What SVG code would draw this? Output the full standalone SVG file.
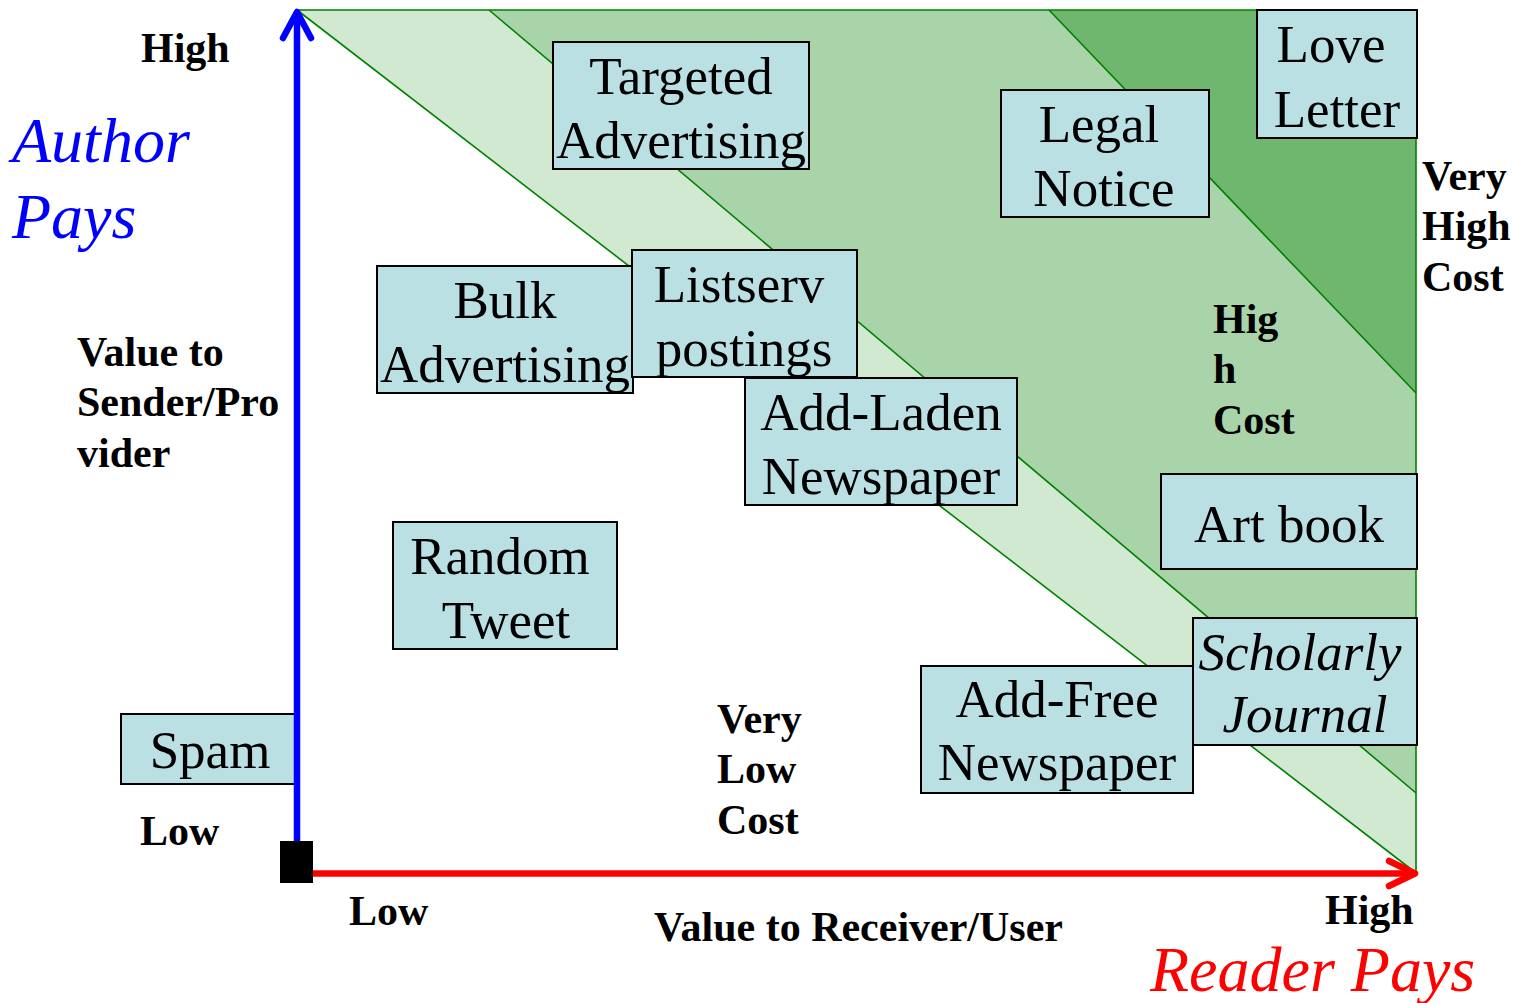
<svg xmlns="http://www.w3.org/2000/svg" width="1513" height="1003" viewBox="0 0 1513 1003">
  <style>
    .node rect { fill: #bbe0e3; stroke: #000; stroke-width: 2; }
    .node text { font-family: "Liberation Serif", "Times New Roman", serif; font-size: 53px; fill: #000; text-anchor: middle; }
    .node text.it { font-style: italic; }
    .lbl { font-family: "Liberation Serif", "Times New Roman", serif; font-size: 42px; font-weight: bold; fill: #000; }
    .pay { font-family: "Liberation Serif", "Times New Roman", serif; font-size: 64px; font-style: italic; }
    .band-line { stroke: #008000; stroke-width: 1.6; fill: none; }
  </style>

  <!-- cost bands -->
  <g id="bands">
    <polygon points="297,10 1416,10 1416,873" fill="#d1e8d1"/>
    <polygon points="489,10 1416,10 1416,793" fill="#a9d3a9"/>
    <polygon points="1049,10 1416,10 1416,393" fill="#6fb76f"/>
    <line class="band-line" x1="297" y1="10" x2="1416" y2="873"/>
    <line class="band-line" x1="489" y1="10" x2="1416" y2="793"/>
    <line class="band-line" x1="1049" y1="10" x2="1416" y2="393"/>
    <line class="band-line" x1="297" y1="10" x2="1416" y2="10" stroke-width="2.2"/>
    <line class="band-line" x1="1416" y1="10" x2="1416" y2="873" stroke-width="2.2"/>
  </g>

  <!-- band labels -->
  <g id="band-labels">
    <text class="lbl" x="717" y="733">Very</text>
    <text class="lbl" x="717" y="783">Low</text>
    <text class="lbl" x="717" y="834">Cost</text>
    <text class="lbl" x="1213" y="333">Hig</text>
    <text class="lbl" x="1213" y="383">h</text>
    <text class="lbl" x="1213" y="434">Cost</text>
    <text class="lbl" x="1422" y="190">Very</text>
    <text class="lbl" x="1422" y="240">High</text>
    <text class="lbl" x="1422" y="291">Cost</text>
  </g>

  <!-- items -->
  <g id="targeted-advertising" class="node">
    <rect x="553" y="42" width="256" height="127"/>
    <text x="681" y="94">Targeted</text>
    <text x="681" y="158">Advertising</text>
  </g>
  <g id="love-letter" class="node">
    <rect x="1257" y="10" width="160" height="128"/>
    <text x="1331" y="62">Love</text>
    <text x="1337" y="127">Letter</text>
  </g>
  <g id="legal-notice" class="node">
    <rect x="1001" y="90" width="208" height="127"/>
    <text x="1099" y="142">Legal</text>
    <text x="1104" y="206">Notice</text>
  </g>
  <g id="bulk-advertising" class="node">
    <rect x="377" y="266" width="256" height="127"/>
    <text x="505" y="318">Bulk</text>
    <text x="505" y="382">Advertising</text>
  </g>
  <g id="listserv-postings" class="node">
    <rect x="632" y="250" width="225" height="127"/>
    <text x="739" y="302">Listserv</text>
    <text x="744" y="366">postings</text>
  </g>
  <g id="add-laden-newspaper" class="node">
    <rect x="745" y="378" width="272" height="127"/>
    <text x="881" y="430">Add-Laden</text>
    <text x="881" y="494">Newspaper</text>
  </g>
  <g id="random-tweet" class="node">
    <rect x="393" y="522" width="224" height="127"/>
    <text x="500" y="574">Random</text>
    <text x="506" y="638">Tweet</text>
  </g>
  <g id="art-book" class="node">
    <rect x="1161" y="474" width="256" height="95"/>
    <text x="1289" y="542">Art book</text>
  </g>
  <g id="add-free-newspaper" class="node">
    <rect x="921" y="666" width="272" height="127"/>
    <text x="1057" y="717">Add-Free</text>
    <text x="1057" y="780">Newspaper</text>
  </g>
  <g id="scholarly-journal" class="node">
    <rect x="1193" y="618" width="224" height="127"/>
    <text class="it" x="1300" y="670">Scholarly</text>
    <text class="it" x="1305" y="732">Journal</text>
  </g>
  <g id="spam" class="node">
    <rect x="121" y="714" width="176" height="70"/>
    <text x="210" y="768">Spam</text>
  </g>

  <!-- axes -->
  <g id="axes">
    <line x1="297" y1="843" x2="297" y2="13" stroke="#0000ff" stroke-width="6.5"/>
    <polyline points="283,38 297,12 311,38" fill="none" stroke="#0000ff" stroke-width="6.5" stroke-linecap="round" stroke-linejoin="round"/>
    <line x1="312" y1="873.5" x2="1414" y2="873.5" stroke="#ff0000" stroke-width="6.5"/>
    <polyline points="1389,861 1415,873.5 1389,886" fill="none" stroke="#ff0000" stroke-width="6.5" stroke-linecap="round" stroke-linejoin="round"/>
    <rect x="280" y="841" width="33" height="42" fill="#000"/>
  </g>

  <!-- axis labels -->
  <g id="axis-labels">
    <text class="lbl" x="141" y="62">High</text>
    <text class="pay" x="12" y="162" fill="#0000ff">Author</text>
    <text class="pay" x="12" y="238" fill="#0000ff">Pays</text>
    <text class="lbl" x="77" y="366">Value to</text>
    <text class="lbl" x="77" y="416">Sender/Pro</text>
    <text class="lbl" x="77" y="467">vider</text>
    <text class="lbl" x="140" y="845">Low</text>
    <text class="lbl" x="349" y="925">Low</text>
    <text class="lbl" x="654" y="941">Value to Receiver/User</text>
    <text class="lbl" x="1325" y="924">High</text>
    <text class="pay" x="1150" y="991" fill="#ff0000">Reader Pays</text>
  </g>
</svg>
